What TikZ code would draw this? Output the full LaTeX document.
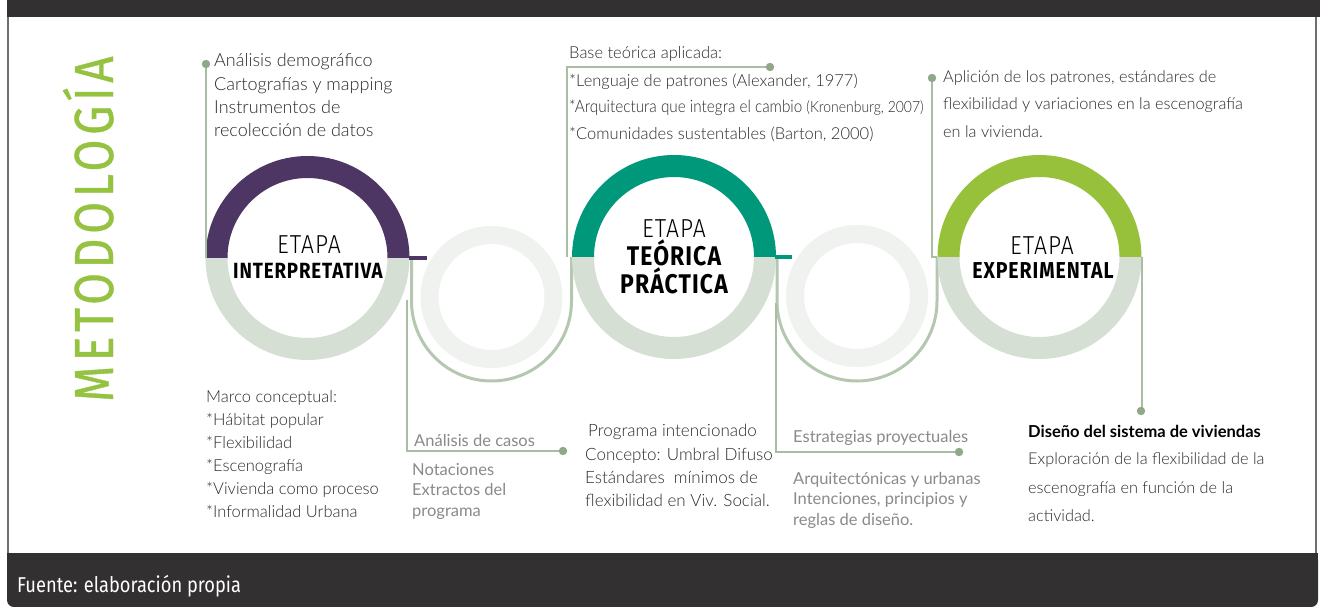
\documentclass[tikz,border=0pt]{standalone}
\usepackage{fontspec}
\usetikzlibrary{calc}
% body text faces
\IfFontExistsTF{Lato Light}{\newfontfamily\lightfont{Lato Light}}{\newfontfamily\lightfont{Lato}}
\newfontfamily\regfont{Lato}
\IfFontExistsTF{Lato Light}{\newfontfamily\lightnarrow[FakeStretch=0.9]{Lato Light}}{\newfontfamily\lightnarrow[FakeStretch=0.9]{Lato}}
% condensed display faces
\IfFontExistsTF{Fira Sans Light}{\newfontfamily\etapalight[FakeStretch=0.88,LetterSpace=4]{Fira Sans Light}}{\newfontfamily\etapalight[FakeStretch=0.88,LetterSpace=4]{Fira Sans}}
\newfontfamily\etapafont[FakeStretch=0.85,LetterSpace=4]{Fira Sans}
\newfontfamily\metfont[FakeStretch=0.84,LetterSpace=8.5,FakeBold=0.7]{Fira Sans}
\newfontfamily\footfont[FakeStretch=0.85]{Fira Sans}

\definecolor{barcol}{HTML}{323031}
\definecolor{framecol}{HTML}{6E6E6E}
\definecolor{purplec}{HTML}{4D3564}
\definecolor{tealc}{HTML}{00987B}
\definecolor{limec}{HTML}{97C13A}
\definecolor{ringlow}{HTML}{D5DFD3}
\definecolor{ringpale}{HTML}{EFF2EE}
\definecolor{ulinec}{HTML}{B5C7B1}
\definecolor{connc}{HTML}{A9BDA5}
\definecolor{dotc}{HTML}{8FA88A}
\definecolor{metgreen}{HTML}{95C341}
\definecolor{graytxt}{HTML}{8A8A8A}
\definecolor{bodytxt}{HTML}{2B2B2B}

\tikzset{
  % stage ring: coloured upper half, pale lower half
  pics/stagering/.style={code={
    \fill[#1] (-102,0) arc[start angle=180,end angle=360,radius=102]
      -- (80,0) arc[start angle=360,end angle=180,radius=80] -- cycle;
    \fill[ringlow] (-102,0) arc[start angle=180,end angle=0,radius=102]
      -- (80,0) arc[start angle=0,end angle=180,radius=80] -- cycle;
  }},
  ringnode/.style={circle, minimum size=204pt, inner sep=0pt},
  smallnode/.style={circle, minimum size=142pt, inner sep=0pt},
  conn/.style={draw=connc, line width=1.6pt},
  uline/.style={draw=ulinec, line width=3pt},
  dot/.style={fill=dotc},
  bt/.style={anchor=base west, inner sep=0pt, text=bodytxt,
    font=\lightfont\fontsize{16.5}{20}\selectfont},
  gt/.style={anchor=base west, inner sep=0pt, text=graytxt,
    font=\regfont\fontsize{16.5}{20}\selectfont},
  etl/.style={anchor=base, inner sep=0pt, text=black,
    font=\etapalight\fontsize{26}{28}\selectfont},
  etb/.style={anchor=base, inner sep=0pt, text=black},
}

\begin{document}
\begin{tikzpicture}[x=1pt,y=-1pt]
\useasboundingbox (0,0) rectangle (1320,607);
\fill[white] (0,0) rectangle (1320,607);

% frame: top bar, side rules, footer bar
\fill[barcol] (7,0) rectangle (1320,17);
\draw[framecol, line width=2pt] (8,17) -- (8,556);
\draw[framecol, line width=2pt] (1316,17) -- (1316,556);
\fill[barcol, rounded corners=7pt] (7,553) rectangle (1318,607);
\fill[barcol] (7,553) rectangle (1318,585);
\node[anchor=base west, inner sep=0pt, text=white,
  font=\footfont\fontsize{21.5}{24}\selectfont] (fuente) at (17,592) {Fuente: elaboración propia};

% vertical title
\node[rotate=90, anchor=base west, inner sep=0pt, text=metgreen,
  font=\metfont\fontsize{55}{60}\selectfont] (met) at (113,402) {METODOLOGÍA};

% ring positions
\node[ringnode] (r1) at (307.5,258) {};
\node[ringnode] (r2) at (674,257) {};
\node[ringnode] (r3) at (1039.5,257) {};
\node[smallnode] (s1) at (491.5,297) {};
\node[smallnode] (s2) at (857,296) {};

% pale linking rings
\fill[ringpale, even odd rule] (s1) circle[radius=71] (s1) circle[radius=53];
\fill[ringpale, even odd rule] (s2) circle[radius=71] (s2) circle[radius=53];

% U-shaped cradles under the pale rings
\draw[uline] (411.5,257) -- (411.5,301) arc[start angle=180,end angle=0,radius=80] -- (571.5,257);
\draw[uline] (777,257) -- (777,301) arc[start angle=180,end angle=0,radius=80] -- (937,257);

% stage rings
\pic at (r1) {stagering=purplec};
\pic at (r2) {stagering=tealc};
\pic at (r3) {stagering=limec};
\fill[purplec] (409,256) rectangle (427,260);
\fill[tealc] (775,255) rectangle (792,259);

% callout dots
\coordinate (d1) at (206,64);
\coordinate (d2) at (770,67);
\coordinate (d3) at (932,78);
\coordinate (d4) at (1141,411);
\coordinate (d5) at (563,451);
\coordinate (d6) at (959,452);
\coordinate (k2) at (567,257);
\coordinate (k5) at (407,300);
\coordinate (k6) at (776,303);

% callout connectors
\draw[conn] (d1) -- (d1 |- r1.west);
\draw[conn] (d2) -| (k2);
\draw[conn] (d3) |- (r3.west);
\draw[conn] (r3.east) -- (r3.east |- d4);
\draw[conn] (k5) |- (d5);
\draw[conn] (k6) |- (d6);
\foreach \d in {d1,d2,d3,d4,d5,d6} \fill[dot] (\d) circle[radius=4.2];

% stage titles
\node[etl] (e1a) at (309,253) {ETAPA};
\node[etb, font=\etapafont\bfseries\fontsize{22}{26}\selectfont] (e1b) at (308,278) {INTERPRETATIVA};
\node[etl] (e2a) at (674,237) {ETAPA};
\node[etb, font=\etapafont\bfseries\fontsize{27}{30}\selectfont] (e2b) at (674,265) {TEÓRICA};
\node[etb, font=\etapafont\bfseries\fontsize{27}{30}\selectfont] (e2c) at (674,293) {PRÁCTICA};
\node[etl] (e3a) at (1042,254) {ETAPA};
\node[etb, font=\etapafont\bfseries\fontsize{23}{26}\selectfont] (e3b) at (1043,278) {EXPERIMENTAL};

% upper texts
\node[bt, font=\lightfont\fontsize{18}{20}\selectfont] (a1) at (214,67) {Análisis demográfico};
\node[bt, font=\lightfont\fontsize{18}{20}\selectfont] (a2) at (214,91) {Cartografías y mapping};
\node[bt, font=\lightfont\fontsize{18}{20}\selectfont] (a3) at (214,114) {Instrumentos de};
\node[bt, font=\lightfont\fontsize{18}{20}\selectfont] (a4) at (214,137) {recolección de datos};

\node[bt] (b1) at (569,59) {Base teórica aplicada:};
\node[bt] (b2) at (569,87) {*Lenguaje de patrones (Alexander, 1977)};
\node[bt, font=\lightnarrow\fontsize{17}{20}\selectfont] (b3) at (569,113) {*Arquitectura que integra el cambio {\fontsize{15.5}{18}\selectfont(Kronenburg, 2007)}};
\node[bt] (b4) at (569,140) {*Comunidades sustentables (Barton, 2000)};

\node[bt, font=\lightfont\fontsize{16.3}{20}\selectfont] (c1) at (943,83) {Aplición de los patrones, estándares de};
\node[bt, font=\lightfont\fontsize{16.3}{20}\selectfont] (c2) at (943,110) {flexibilidad y variaciones en la escenografía};
\node[bt, font=\lightfont\fontsize{16.3}{20}\selectfont] (c3) at (943,138) {en la vivienda.};

% lower texts
\node[bt] (m1) at (206,402) {Marco conceptual:};
\node[bt] (m2) at (206,425) {*Hábitat popular};
\node[bt] (m3) at (206,448) {*Flexibilidad};
\node[bt] (m4) at (206,471) {*Escenografía};
\node[bt] (m5) at (206,494) {*Vivienda como proceso};
\node[bt] (m6) at (206,517) {*Informalidad Urbana};

\node[gt] (n0) at (414,446) {Análisis de casos};
\node[gt] (n1) at (412,475) {Notaciones};
\node[gt] (n2) at (412,495.5) {Extractos del};
\node[gt] (n3) at (412,516) {programa};

\node[bt, font=\lightfont\fontsize{17}{20}\selectfont] (p1) at (588,436) {Programa intencionado};
\node[bt, font=\lightfont\fontsize{17}{20}\selectfont] (p2) at (585,460) {Concepto: Umbral Difuso};
\node[bt, font=\lightfont\fontsize{17}{20}\selectfont] (p3) at (585,483) {Estándares~ mínimos de};
\node[bt, font=\lightfont\fontsize{17}{20}\selectfont] (p4) at (585,506) {flexibilidad en Viv. Social.};

\node[gt] (q0) at (793,442) {Estrategias proyectuales};
\node[gt] (q1) at (793,484) {Arquitectónicas y urbanas};
\node[gt] (q2) at (793,504) {Intenciones, principios y};
\node[gt] (q3) at (793,525) {reglas de diseño.};

\node[bt, font=\regfont\bfseries\fontsize{16.5}{20}\selectfont, text=black] (x0) at (1028,437) {Diseño del sistema de viviendas};
\node[bt, font=\lightfont\fontsize{16.3}{20}\selectfont] (x1) at (1028,464) {Exploración de la flexibilidad de la};
\node[bt, font=\lightfont\fontsize{16.3}{20}\selectfont] (x2) at (1028,493) {escenografía en función de la};
\node[bt, font=\lightfont\fontsize{16.3}{20}\selectfont] (x3) at (1028,521) {actividad.};
\end{tikzpicture}
\end{document}
